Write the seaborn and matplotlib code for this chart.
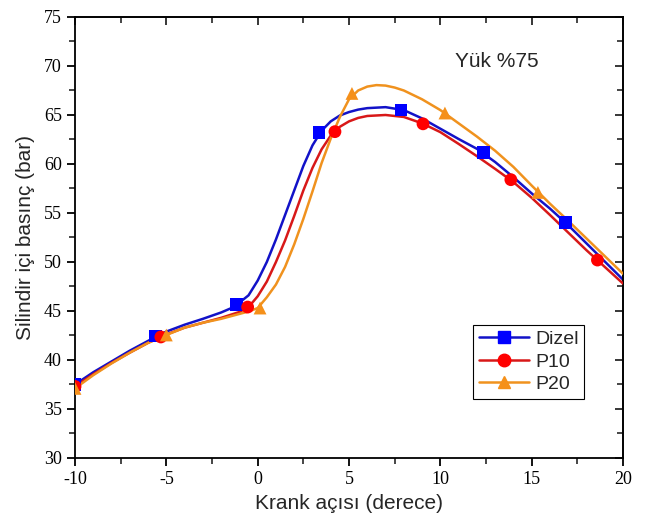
import matplotlib
matplotlib.use("Agg")
import matplotlib.pyplot as plt
from matplotlib.ticker import MultipleLocator
from matplotlib.lines import Line2D
import seaborn as sns
import pandas as pd

# ---- curve points ----
dizel_x = [-10, -9, -8, -7, -6, -5, -4, -3, -2, -1.5, -1, -0.5, 0, 0.5, 1, 1.5, 2, 2.5, 3, 3.5, 4, 4.5, 5, 5.5, 6, 7, 8, 9, 10, 11, 12, 13, 14, 15, 16, 17, 18, 19, 20]
dizel_y = [37.5, 38.75, 39.85, 40.95, 41.95, 42.9, 43.6, 44.2, 44.85, 45.25, 45.85, 46.6, 48.1, 50.0, 52.3, 54.8, 57.3, 59.8, 61.9, 63.4, 64.35, 64.95, 65.3, 65.55, 65.7, 65.8, 65.5, 64.65, 63.6, 62.55, 61.55, 60.2, 58.65, 57.0, 55.45, 53.75, 51.9, 50.05, 48.2]

p10_x = [-10, -9, -8, -7, -6, -5, -4, -3, -2, -1, -0.5, 0, 0.5, 1, 1.5, 2, 2.5, 3, 3.5, 4, 4.5, 5, 5.5, 6, 7, 8, 9, 10, 11, 12, 13, 14, 15, 16, 17, 18, 19, 20]
p10_y = [37.3, 38.55, 39.7, 40.75, 41.75, 42.6, 43.3, 43.8, 44.3, 44.9, 45.4, 46.5, 48.0, 50.0, 52.2, 54.7, 57.3, 59.6, 61.5, 62.9, 63.8, 64.35, 64.7, 64.9, 65.0, 64.8, 64.15, 63.25, 62.05, 60.8, 59.5, 58.15, 56.55, 54.8, 53.0, 51.2, 49.5, 47.8]

p20_x = [-10, -9, -8, -7, -6, -5, -4, -3, -2, -1, -0.5, 0, 0.5, 1, 1.5, 2, 2.5, 3, 3.5, 4, 4.5, 5, 5.5, 6, 6.5, 7, 7.5, 8, 9, 10, 11, 12, 13, 14, 15, 16, 17, 18, 19, 20]
p20_y = [37.1, 38.45, 39.65, 40.75, 41.75, 42.55, 43.3, 43.8, 44.2, 44.7, 44.95, 45.3, 46.4, 47.7, 49.5, 51.8, 54.4, 57.2, 60.1, 62.6, 64.8, 66.6, 67.5, 67.9, 68.05, 68.0, 67.8, 67.5, 66.6, 65.5, 64.15, 62.8, 61.35, 59.7, 57.8, 55.95, 54.2, 52.4, 50.6, 48.8]

# ---- marker points ----
dizel_mx = [-10, -5.6, -1.15, 3.36, 7.85, 12.35, 16.85]
dizel_my = [37.5, 42.45, 45.7, 63.2, 65.5, 61.2, 54.0]
p10_mx = [-10, -5.3, -0.55, 4.23, 9.05, 13.86, 18.6]
p10_my = [37.3, 42.35, 45.4, 63.3, 64.1, 58.4, 50.2]
p20_mx = [-10, -5.0, 0.13, 5.16, 10.25, 15.34]
p20_my = [37.1, 42.55, 45.3, 67.2, 65.2, 57.1]

labels = ["Dizel", "P10", "P20"]
line_colors = ["#1212c8", "#d81818", "#f0921e"]
mark_colors = ["#0000ff", "#ff0000", "#f5901a"]
markers = ["s", "o", "^"]

sns.set_theme(style="white")
plt.rcParams["font.family"] = ["Liberation Sans", "DejaVu Sans"]
plt.rcParams["axes.unicode_minus"] = False

fig = plt.figure(figsize=(6.5, 5.15), dpi=100)
ax = fig.add_axes([0.1154, 0.1107, 0.8431, 0.8563])

curves = [(dizel_x, dizel_y), (p10_x, p10_y), (p20_x, p20_y)]
marks = [(dizel_mx, dizel_my), (p10_mx, p10_my), (p20_mx, p20_my)]

for i, ((cx, cy), (mx, my)) in enumerate(zip(curves, marks)):
    df = pd.DataFrame({"x": cx, "y": cy})
    sns.lineplot(data=df, x="x", y="y", ax=ax, color=line_colors[i], lw=1.8,
                 sort=True, estimator=None, zorder=2 + i)
    dm = pd.DataFrame({"x": mx, "y": my})
    sns.scatterplot(data=dm, x="x", y="y", ax=ax, marker=markers[i],
                    color=mark_colors[i], s=85, edgecolor="none", linewidth=0,
                    zorder=5 + i)

ax.set_xlim(-10, 20)
ax.set_ylim(30, 75)
ax.xaxis.set_major_locator(MultipleLocator(5))
ax.xaxis.set_minor_locator(MultipleLocator(2.5))
ax.yaxis.set_major_locator(MultipleLocator(5))
ax.yaxis.set_minor_locator(MultipleLocator(2.5))

for s in ax.spines.values():
    s.set_color("black")
    s.set_linewidth(1.3)

ax.tick_params(axis="x", which="major", direction="out", length=6, width=1.3,
               bottom=True, top=False, colors="black", labelsize=13)
ax.tick_params(axis="x", which="minor", direction="out", length=4, width=1.2,
               bottom=True, top=False)
ax.tick_params(axis="y", which="major", direction="out", length=6, width=1.3,
               left=True, right=False, colors="black", labelsize=13)
ax.tick_params(axis="y", which="minor", direction="out", length=4, width=1.2,
               left=True, right=False)
# inward ticks on top and right
axt = ax.secondary_xaxis("top")
axt.set_xticks([-10, -5, 0, 5, 10, 15, 20])
axt.xaxis.set_minor_locator(MultipleLocator(2.5))
axt.tick_params(which="major", direction="in", length=6, width=1.3, labeltop=False)
axt.tick_params(which="minor", direction="in", length=4, width=1.2)
axr = ax.secondary_yaxis("right")
axr.set_yticks(list(range(30, 80, 5)))
axr.yaxis.set_minor_locator(MultipleLocator(2.5))
axr.tick_params(which="major", direction="in", length=6, width=1.3, labelright=False)
axr.tick_params(which="minor", direction="in", length=4, width=1.2)

for lab in ax.get_xticklabels() + ax.get_yticklabels():
    lab.set_family(["Liberation Serif", "DejaVu Serif"])

ax.set_xlabel("Krank açısı (derece)", fontsize=15, labelpad=4)
ax.set_ylabel("Silindir içi basınç (bar)", fontsize=15, labelpad=6)

ax.text(0.77, 0.898, "Yük %75", transform=ax.transAxes, fontsize=15,
        ha="center", va="center")

handles = [Line2D([0], [0], color=line_colors[i], lw=1.8, marker=markers[i],
                  markersize=9, markerfacecolor=mark_colors[i],
                  markeredgecolor=mark_colors[i]) for i in range(3)]
leg = ax.legend(handles, labels, loc="upper left", bbox_to_anchor=(0.726, 0.302),
                fontsize=14, frameon=True, fancybox=False, framealpha=1,
                edgecolor="black", handlelength=2.6, handletextpad=0.3,
                borderpad=0.3, labelspacing=0.25, borderaxespad=0)
leg.get_frame().set_linewidth(0.8)

fig.savefig("out.png", dpi=100)
